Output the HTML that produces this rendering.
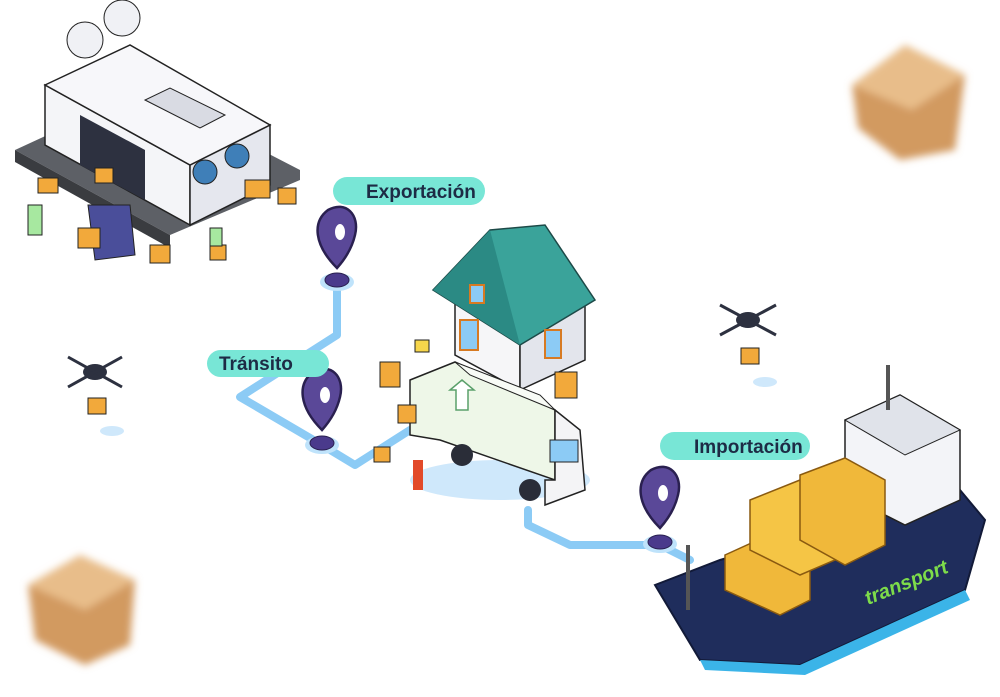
<!DOCTYPE html>
<html><head><meta charset="utf-8"><style>
html,body{margin:0;padding:0;background:#fff;}
svg{display:block}
.lbl{font-family:"Liberation Sans",sans-serif;font-weight:bold;font-size:19px;fill:#1d2b45}
</style></head><body>
<svg width="1000" height="697" viewBox="0 0 1000 697">
<defs>
<filter id="blur" x="-30%" y="-30%" width="160%" height="160%"><feGaussianBlur stdDeviation="4"/></filter>
</defs>
<g fill="none" stroke="#8ccbf5" stroke-width="8" stroke-linejoin="round" stroke-linecap="round">
<polyline points="337,285 337,335 240,397 322,445 355,465 410,430"/>
<polyline points="528,510 528,525 570,545 660,545 690,560"/>
</g>
<g>
<polygon points="15,150 170,235 300,180 300,170 145,90" fill="#5d6066"/>
<polygon points="15,150 170,235 170,248 15,162" fill="#3a3c40"/>
<polygon points="45,85 190,165 190,225 45,145" fill="#f4f5f8" stroke="#222" stroke-width="1.5"/>
<polygon points="190,165 270,125 270,185 190,225" fill="#e5e7ee" stroke="#222" stroke-width="1.5"/>
<polygon points="45,85 190,165 270,125 130,45" fill="#f7f7fa" stroke="#222" stroke-width="1.5"/>
<polygon points="80,115 145,150 145,200 80,165" fill="#2d3140"/>
<polygon points="145,100 200,128 225,115 170,88" fill="#d9dbe3" stroke="#222"/>
<circle cx="85" cy="40" r="18" fill="#f0f1f5" stroke="#222"/>
<circle cx="122" cy="18" r="18" fill="#f0f1f5" stroke="#222"/>
<circle cx="205" cy="172" r="12" fill="#3f7fb8" stroke="#222"/>
<circle cx="237" cy="156" r="12" fill="#3f7fb8" stroke="#222"/>
<polygon points="88,205 130,205 135,255 95,260" fill="#4a4e9a" stroke="#222"/>
<rect x="38" y="178" width="20" height="15" fill="#f2a93b" stroke="#222"/>
<rect x="95" y="168" width="18" height="15" fill="#f2a93b" stroke="#222"/>
<rect x="245" y="180" width="25" height="18" fill="#f2a93b" stroke="#222"/>
<rect x="278" y="188" width="18" height="16" fill="#f2a93b" stroke="#222"/>
<rect x="150" y="245" width="20" height="18" fill="#f2a93b" stroke="#222"/>
<rect x="78" y="228" width="22" height="20" fill="#f2a93b" stroke="#222"/>
<rect x="210" y="245" width="16" height="15" fill="#f2a93b" stroke="#222"/>
<rect x="28" y="205" width="14" height="30" fill="#a7e8a0" stroke="#222"/>
<rect x="210" y="228" width="12" height="18" fill="#a7e8a0" stroke="#222"/>
</g>
<g>
<ellipse cx="337" cy="282" rx="17" ry="9" fill="#bfe3fb"/>
<ellipse cx="337" cy="280" rx="12" ry="7" fill="#4a3a8c" stroke="#2a2050"/>
<path d="M337,268 C314,245 312,222 328,210 C346,200 360,215 355,235 C352,248 346,258 337,268Z" fill="#5a4898" stroke="#2a2050" stroke-width="2.5"/>
<ellipse cx="340" cy="232" rx="5" ry="8" fill="#fff"/>
</g>
<g>
<ellipse cx="322" cy="445" rx="17" ry="9" fill="#bfe3fb"/>
<ellipse cx="322" cy="443" rx="12" ry="7" fill="#4a3a8c" stroke="#2a2050"/>
<path d="M322,430 C299,407 297,384 313,372 C331,362 345,377 340,397 C337,410 331,420 322,430Z" fill="#5a4898" stroke="#2a2050" stroke-width="2.5"/>
<ellipse cx="325" cy="395" rx="5" ry="8" fill="#fff"/>
</g>
<g>
<ellipse cx="660" cy="544" rx="17" ry="9" fill="#bfe3fb"/>
<ellipse cx="660" cy="542" rx="12" ry="7" fill="#4a3a8c" stroke="#2a2050"/>
<path d="M660,528 C637,505 635,482 651,470 C669,460 683,475 678,495 C675,508 669,518 660,528Z" fill="#5a4898" stroke="#2a2050" stroke-width="2.5"/>
<ellipse cx="663" cy="493" rx="5" ry="8" fill="#fff"/>
</g>
<g><rect x="333" y="177" width="152" height="28" rx="14" fill="#78e6d6"/><text class="lbl" x="366" y="198">Exportación</text></g>
<g><rect x="207" y="350" width="122" height="27" rx="13.5" fill="#78e6d6"/><text class="lbl" x="219" y="370">Tránsito</text></g>
<g><rect x="660" y="432" width="150" height="28" rx="14" fill="#78e6d6"/><text class="lbl" x="694" y="453">Importación</text></g>
<g>
<polygon points="455,300 520,335 520,390 455,355" fill="#f6f6f8" stroke="#222" stroke-width="1.5"/>
<polygon points="520,335 585,300 585,360 520,390" fill="#e3e5ec" stroke="#222" stroke-width="1.5"/>
<polygon points="433,290 490,230 545,225 595,300 520,345" fill="#3aa39a" stroke="#1d4a48" stroke-width="1.5"/>
<polygon points="433,290 490,230 520,345" fill="#2b8a84"/>
<rect x="470" y="285" width="14" height="18" fill="#8ccbf5" stroke="#d77a22" stroke-width="2"/>
<rect x="460" y="320" width="18" height="30" fill="#8ccbf5" stroke="#d77a22" stroke-width="2"/>
<rect x="545" y="330" width="16" height="28" fill="#8ccbf5" stroke="#d77a22" stroke-width="2"/>
<rect x="555" y="372" width="22" height="26" fill="#f2a93b" stroke="#222"/>
<rect x="380" y="362" width="20" height="25" fill="#f2a93b" stroke="#222"/>
<rect x="415" y="340" width="14" height="12" fill="#f7d64b" stroke="#222"/>
</g>
<g>
<ellipse cx="500" cy="480" rx="90" ry="20" fill="#cfe8fb"/>
<polygon points="410,380 455,362 555,410 555,480 440,440 410,435" fill="#eef7e8" stroke="#222" stroke-width="1.5"/>
<polygon points="455,362 540,395 555,410 470,375" fill="#f8fbf6" stroke="#222"/>
<polygon points="555,410 580,430 585,490 545,505 545,480 555,480" fill="#f4f4f6" stroke="#222" stroke-width="1.5"/>
<rect x="550" y="440" width="28" height="22" fill="#8ccbf5" stroke="#222"/>
<circle cx="462" cy="455" r="11" fill="#2a2d38"/><circle cx="530" cy="490" r="11" fill="#2a2d38"/>
<polygon points="450,390 462,380 474,390 468,390 468,410 456,410 456,390" fill="#fff" stroke="#5aa06a" stroke-width="1.5"/>
<rect x="398" y="405" width="18" height="18" fill="#f2a93b" stroke="#222"/>
<rect x="374" y="447" width="16" height="15" fill="#f2a93b" stroke="#222"/>
<rect x="413" y="460" width="10" height="30" fill="#e24a2a"/>
</g>
<g>
<ellipse cx="112" cy="431" rx="12" ry="5" fill="#cfe8fb"/>
<ellipse cx="95" cy="372" rx="12" ry="8" fill="#2d3140"/>
<line x1="68" y1="357" x2="122" y2="387" stroke="#2d3140" stroke-width="3"/><line x1="122" y1="357" x2="68" y2="387" stroke="#2d3140" stroke-width="3"/>
<rect x="88" y="398" width="18" height="16" fill="#f2a93b" stroke="#222"/>
</g>
<g>
<ellipse cx="765" cy="382" rx="12" ry="5" fill="#cfe8fb"/>
<ellipse cx="748" cy="320" rx="12" ry="8" fill="#2d3140"/>
<line x1="720" y1="305" x2="776" y2="335" stroke="#2d3140" stroke-width="3"/><line x1="776" y1="305" x2="720" y2="335" stroke="#2d3140" stroke-width="3"/>
<rect x="741" y="348" width="18" height="16" fill="#f2a93b" stroke="#222"/>
</g>
<g>
<path d="M655,585 L720,560 L960,490 L985,520 L965,590 L800,665 L700,660 Z" fill="#1f2d5c" stroke="#121a38" stroke-width="2"/>
<path d="M700,660 L800,665 L965,590 L970,600 L805,675 L705,670Z" fill="#3bb4e8"/>
<polygon points="845,420 900,395 960,430 960,500 905,525 845,495" fill="#f3f4f8" stroke="#222" stroke-width="1.5"/>
<polygon points="845,420 900,395 960,430 905,455" fill="#e0e3ea" stroke="#222"/>
<line x1="888" y1="365" x2="888" y2="410" stroke="#555" stroke-width="4"/>
<polygon points="725,555 780,530 810,545 810,600 780,615 725,590" fill="#f0b83a" stroke="#8a5a10" stroke-width="1.5"/>
<polygon points="750,500 800,480 835,500 835,560 800,575 750,550" fill="#f5c545" stroke="#8a5a10" stroke-width="1.5"/>
<polygon points="800,475 845,458 885,480 885,545 845,565 800,540" fill="#f0b83a" stroke="#8a5a10" stroke-width="1.5"/>
<line x1="688" y1="545" x2="688" y2="610" stroke="#555" stroke-width="4"/>
<text x="868" y="605" transform="rotate(-22 868 605)" font-family="Liberation Sans,sans-serif" font-weight="bold" font-style="italic" font-size="20" fill="#7ddc4a">transport</text>
</g>
<g filter="url(#blur)">
<polygon points="852,85 905,45 965,75 955,150 900,160 858,128" fill="#d29a60"/>
<polygon points="852,85 905,45 965,75 912,110" fill="#e8bd8a"/>
</g>
<g filter="url(#blur)">
<polygon points="28,585 80,555 135,580 130,645 85,665 35,640" fill="#d29a60"/>
<polygon points="28,585 80,555 135,580 85,610" fill="#e8bd8a"/>
</g>
</svg>
</body></html>
